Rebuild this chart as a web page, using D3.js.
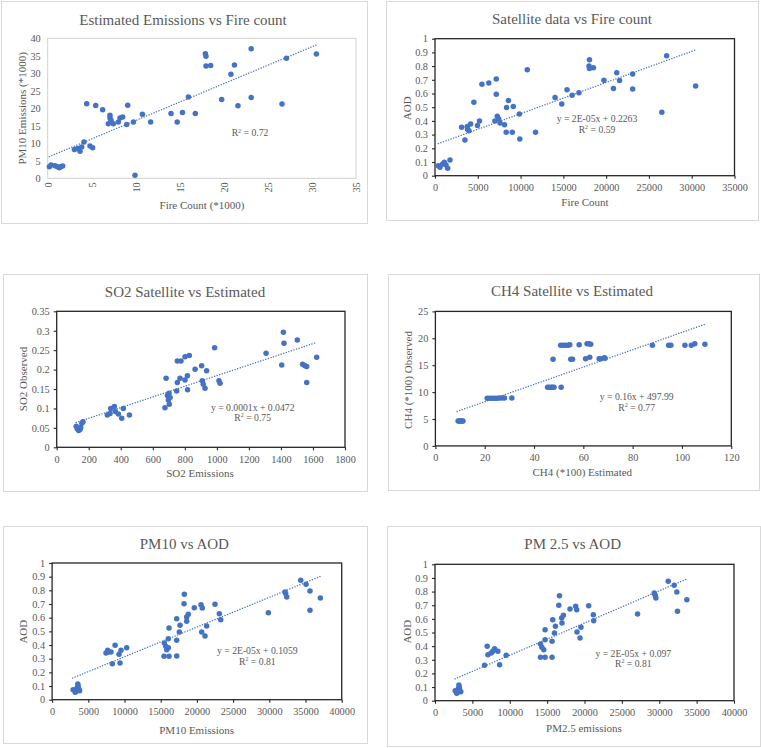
<!DOCTYPE html>
<html><head><meta charset="utf-8">
<script src="https://cdn.jsdelivr.net/npm/d3@7"></script>
<style>body{margin:0;background:#fff}svg{display:block}</style>
</head><body>
<svg id="c" width="761" height="748"></svg>
<script>
// ---------- DATA ----------
const titles = ["Estimated Emissions vs Fire count","Satellite data vs Fire count","SO2 Satellite vs Estimated","CH4 Satellite vs Estimated","PM10 vs AOD","PM 2.5 vs AOD"];
const xTitles = ["Fire Count (*1000)","Fire Count","SO2 Emissions","CH4 (*100) Estimated","PM10 Emissions","PM2.5 emissions"];
const yTitles = ["PM10 Emissions (*1000)","AOD","SO2 Observed","CH4 (*100) Observed","AOD","AOD"];
const equations = ["","y = 2E-05x + 0.2263","y = 0.0001x + 0.0472","y = 0.16x + 497.99","y = 2E-05x + 0.1059","y = 2E-05x + 0.097"];
const r2Values = ["0.72","0.59","0.75","0.77","0.81","0.81"];

const xTicks1 = [0,5,10,15,20,25,30,35];
const yTicks1 = [0,5,10,15,20,25,30,35,40];
const xTicks2 = [0,5000,10000,15000,20000,25000,30000,35000];
const yTicksAOD = [0,0.1,0.2,0.3,0.4,0.5,0.6,0.7,0.8,0.9,1];
const xTicks3 = [0,200,400,600,800,1000,1200,1400,1600,1800];
const yTicks3 = [0,0.05,0.1,0.15,0.2,0.25,0.3,0.35];
const xTicks4 = [0,20,40,60,80,100,120];
const yTicks4 = [0,5,10,15,20,25];
const xTicks56 = [0,5000,10000,15000,20000,25000,30000,35000,40000];

const emissionsVsFire = [[0.19,3.3],[0.38,3.8],[0.83,3.6],[1.1,3.3],[1.32,3.0],[1.48,3.3],[1.7,3.5],
 [3.03,8.2],[3.4,8.5],[3.67,7.7],[3.86,8.95],[4.12,10.4],[4.43,21.3],[4.8,9.2],[5.1,8.7],[5.45,20.8],[6.24,19.6],
 [6.88,15.6],[7.07,18.0],[7.07,17.2],[7.19,16.6],[7.45,15.6],[8.02,16.1],[8.21,17.2],[8.51,17.5],[8.97,15.4],[9.08,20.9],
 [9.73,16.1],[9.91,0.85],[10.75,18.3],[11.69,16.1],[14.0,18.5],[14.7,16.1],[15.3,18.8],[15.97,23.2],[16.76,18.5],
 [17.9,35.6],[17.97,34.9],[17.97,32.1],[18.5,32.2],[19.75,22.5],[20.8,29.7],[21.2,32.4],[21.6,20.7],[23.1,37.0],[23.1,23.1],
 [26.6,21.2],[27.1,34.3],[30.5,35.5]];
const aodVsFire = [[389,0.073],[583,0.061],[895,0.085],[1089,0.098],[1284,0.078],[1478,0.054],[1750,0.115],
 [3112,0.354],[3500,0.261],[3773,0.359],[3800,0.339],[3967,0.329],[4162,0.378],[4540,0.537],[4960,0.366],[5200,0.40],
 [5484,0.668],[6290,0.676],[7160,0.705],[7160,0.595],[7000,0.40],[7280,0.434],[7450,0.414],[7600,0.385],[8120,0.371],
 [8320,0.318],[8363,0.498],[8580,0.548],[9030,0.317],[9150,0.505],[9860,0.451],[9910,0.268],[10780,0.773],[11750,0.317],
 [14030,0.571],[14810,0.524],[15430,0.627],[16020,0.588],[16820,0.606],[18050,0.846],[18000,0.800],[18050,0.783],[18510,0.788],
 [19740,0.697],[20850,0.636],[21240,0.752],[21570,0.695],[23100,0.743],[23100,0.633],[26510,0.464],[27070,0.876],[30455,0.654]];
const so2 = [[122,0.054],[128,0.048],[137,0.043],[146,0.046],[150,0.051],[157,0.062],[164,0.066],
 [316,0.083],[333,0.087],[337,0.100],[360,0.105],[366,0.092],[385,0.086],[406,0.075],[416,0.100],[454,0.083],
 [676,0.102],[683,0.178],[691,0.133],[697,0.122],[701,0.139],[703,0.111],[708,0.128],[749,0.145],[753,0.167],[753,0.222],
 [776,0.222],[770,0.178],[801,0.173],[801,0.233],[816,0.184],[817,0.148],[828,0.236],[864,0.201],[905,0.210],[909,0.171],
 [915,0.162],[926,0.152],[936,0.197],[986,0.256],[1013,0.171],[1020,0.165],[1307,0.242],[1405,0.212],[1415,0.296],
 [1419,0.268],[1502,0.276],[1535,0.214],[1550,0.210],[1561,0.208],[1561,0.167],[1623,0.232]];
const ch4 = [[9.2,4.65],[9.6,4.65],[10.0,4.65],[10.4,4.65],[10.8,4.65],[11.2,4.65],
 [21,8.85],[22,8.85],[23,8.85],[24,8.85],[25,8.85],[26,8.9],[27,8.9],[28,8.9],[31,8.9],
 [45.5,10.9],[46.2,10.9],[47,10.9],[47.6,10.9],[48.1,10.9],[51,10.9],
 [47.7,16.1],[54.9,16.1],[55.6,16.1],[60.9,16.2],[62.6,16.5],[66.4,16.2],[67.1,16.2],[68.5,16.4],[68.8,16.3],
 [50.8,18.7],[51.8,18.7],[52.7,18.7],[53.8,18.7],[54.5,18.8],[58.3,18.8],[61.5,19.0],[62.3,19.0],[63.0,18.9],
 [88,18.7],[94.6,18.7],[95.5,18.7],[101.2,18.7],[103.8,18.7],[105.2,19.0],[109.3,18.9]];
const pm10Aod = [[2900,0.073],[3200,0.054],[3300,0.061],[3450,0.085],[3550,0.115],[3600,0.098],[3700,0.078],[3800,0.065],
 [7445,0.342],[7680,0.361],[7760,0.349],[8130,0.349],[8320,0.263],[8700,0.398],[9240,0.332],[9380,0.268],[9520,0.361],[10300,0.380],
 [15460,0.317],[15500,0.415],[15690,0.391],[15830,0.366],[16050,0.380],[16150,0.317],[16050,0.446],[16150,0.524],
 [17210,0.434],[17210,0.592],[17210,0.320],[17570,0.495],[17670,0.544],[18260,0.771],[18220,0.702],[18590,0.605],[18590,0.573],
 [18810,0.625],[19640,0.673],[20570,0.695],[20750,0.671],[20660,0.495],[21120,0.466],[21350,0.539],[22500,0.698],[23100,0.629],
 [23290,0.585],[29870,0.636],[32170,0.788],[32260,0.776],[32410,0.751],[34340,0.873],[35070,0.844],[35620,0.795],[35620,0.654],[37050,0.744]];
const pm25Aod = [[2700,0.073],[2900,0.054],[3000,0.061],[3100,0.085],[3200,0.115],[3250,0.098],[3300,0.078],[3450,0.065],
 [6630,0.260],[6980,0.399],[7080,0.337],[7520,0.350],[7740,0.362],[7970,0.381],[8410,0.362],[8640,0.264],[9520,0.333],
 [14110,0.416],[14290,0.391],[14550,0.374],[14730,0.520],[14730,0.447],[14110,0.318],[14730,0.318],[15660,0.435],[15660,0.318],
 [15750,0.594],[15980,0.496],[16110,0.545],[16650,0.770],[16560,0.699],[16950,0.606],[16990,0.570],[17180,0.626],[18060,0.672],
 [18820,0.692],[18960,0.667],[19000,0.504],[19400,0.460],[19530,0.538],[20560,0.696],[21180,0.631],[21230,0.587],[27100,0.636],
 [29330,0.790],[29460,0.773],[29550,0.753],[31200,0.875],[32000,0.846],[32350,0.797],[32440,0.655],[33690,0.740]];

const trend1 = [[0.19,6.2],[30.5,38.1]];
const trend2 = [[389,0.234],[30455,0.918]];
const trend3 = [[122,0.064],[1623,0.270]];
const trend4 = [[8.8,6.4],[109.3,22.6]];
const trend5 = [[2830,0.158],[37050,0.902]];
const trend6 = [[2670,0.16],[33780,0.895]];

// ---------- LAYOUT ----------
const panels = [
 {frame:[1,1,366,222], plot:[47.7,356,38.3,178.3], xd:[0,35], yd:[0,40], xt:xTicks1, yt:yTicks1, data:emissionsVsFire, trend:trend1,
  rotX:true, boxColor:"#d0d0d0", tickMarks:false, title:[183,20], xTitle:[202,205], yTitle:[21.7,108.3], eq:null, r2:[250,133]},
 {frame:[386,1,372,219], plot:[435,734.5,38.7,175.7], xd:[0,35000], yd:[0,1], xt:xTicks2, yt:yTicksAOD, data:aodVsFire, trend:trend2,
  boxColor:"#262626", tickMarks:true, title:[572,18.3], xTitle:[585,201.7], yTitle:[407.3,108.3], eq:[597,118.3], r2:[597,129.3]},
 {frame:[3,274,364,217], plot:[56.7,345,311.3,447.3], xd:[0,1800], yd:[0,0.35], xt:xTicks3, yt:yTicks3, data:so2, trend:trend3,
  boxColor:"#262626", tickMarks:true, title:[185,291.7], xTitle:[200,473.3], yTitle:[22.7,379], eq:[252.7,407.3], r2:[252.7,417.7]},
 {frame:[388,274,371,216], plot:[435.4,731.3,311.4,445.9], xd:[0,120], yd:[0,25], xt:xTicks4, yt:yTicks4, data:ch4, trend:trend4,
  boxColor:"#262626", tickMarks:true, title:[572,290.7], xTitle:[582.3,471.7], yTitle:[408.3,380], eq:[636.7,396.7], r2:[636.7,407.3]},
 {frame:[3,526,364,217], plot:[52.1,341.7,563,699.7], xd:[0,40000], yd:[0,1], xt:xTicks56, yt:yTicksAOD, data:pm10Aod, trend:trend5,
  boxColor:"#262626", tickMarks:true, title:[184.3,543.3], xTitle:[196.7,730], yTitle:[23.3,631.7], eq:[257.3,651], r2:[257.3,661.7]},
 {frame:[387,526,373,220], plot:[435,734,564.3,700.7], xd:[0,40000], yd:[0,1], xt:xTicks56, yt:yTicksAOD, data:pm25Aod, trend:trend6,
  boxColor:"#262626", tickMarks:true, title:[572.7,544], xTitle:[584,728.3], yTitle:[406.7,631.7], eq:[633.3,653.3], r2:[633.3,663.3]}
];

const FONT = "'Liberation Serif', 'DejaVu Serif', serif";
const GRAY = "#595959";
const BLUE = "#4472C4";
const svg = d3.select("#c");
svg.append("rect").attr("width",761).attr("height",748).attr("fill","#fff");

panels.forEach((p,i) => {
  const g = svg.append("g");
  const [fx,fy,fw,fh] = p.frame;
  g.append("rect").attr("x",fx+0.5).attr("y",fy+0.5).attr("width",fw).attr("height",fh)
    .attr("fill","#fff").attr("stroke","#d9d9d9").attr("stroke-width",1);
  const [l,r,t,b] = p.plot;
  const x = d3.scaleLinear().domain(p.xd).range([l,r]);
  const y = d3.scaleLinear().domain(p.yd).range([b,t]);
  const fmt = d => String(+d.toFixed(4));

  // plot box
  g.append("rect").attr("x",l).attr("y",t).attr("width",r-l).attr("height",b-t)
    .attr("fill","none").attr("stroke",p.boxColor).attr("stroke-width",p.tickMarks?1.3:1);

  // axes
  const tickLen = p.tickMarks ? 3 : 0;
  const xa = g.append("g").attr("transform",`translate(0,${b})`)
    .call(d3.axisBottom(x).tickValues(p.xt).tickFormat(fmt).tickSizeInner(tickLen).tickSizeOuter(0).tickPadding(p.rotX?4:5));
  const ya = g.append("g").attr("transform",`translate(${l},0)`)
    .call(d3.axisLeft(y).tickValues(p.yt).tickFormat(fmt).tickSizeInner(tickLen).tickSizeOuter(0).tickPadding(p.tickMarks?4:7));
  [xa,ya].forEach(a => {
    a.select(".domain").remove();
    a.selectAll(".tick line").attr("stroke",p.boxColor).attr("stroke-width",1.1);
    a.selectAll("text").attr("fill",GRAY).attr("font-family",FONT).attr("font-size",10.3);
  });
  if (p.rotX) {
    xa.selectAll(".tick text").attr("transform","rotate(-90)").attr("text-anchor","end")
      .attr("x",-4).attr("y",0).attr("dy","0.35em");
  }

  // trendline
  const line = d3.line().x(d=>x(d[0])).y(d=>y(d[1]));
  g.append("path").attr("d",line(p.trend)).attr("fill","none").attr("stroke",BLUE)
    .attr("stroke-width",1.4).attr("stroke-dasharray","0.1,2.6").attr("stroke-linecap","round");

  // dots
  g.append("g").selectAll("circle").data(p.data).join("circle")
    .attr("cx",d=>x(d[0])).attr("cy",d=>y(d[1])).attr("r",2.75).attr("fill",BLUE);

  // titles
  g.append("text").attr("x",p.title[0]).attr("y",p.title[1]).attr("dy","0.35em").attr("text-anchor","middle")
    .attr("font-family",FONT).attr("font-size",15).attr("fill",GRAY).text(titles[i]);
  g.append("text").attr("x",p.xTitle[0]).attr("y",p.xTitle[1]).attr("dy","0.35em").attr("text-anchor","middle")
    .attr("font-family",FONT).attr("font-size",11).attr("fill",GRAY).text(xTitles[i]);
  g.append("text").attr("transform",`translate(${p.yTitle[0]},${p.yTitle[1]}) rotate(-90)`).attr("dy","0.35em")
    .attr("text-anchor","middle").attr("font-family",FONT).attr("font-size",11).attr("fill",GRAY).text(yTitles[i]);

  // equation & R2
  if (p.eq) {
    g.append("text").attr("x",p.eq[0]).attr("y",p.eq[1]).attr("dy","0.35em").attr("text-anchor","middle")
      .attr("font-family",FONT).attr("font-size",9.7).attr("fill",GRAY).text(equations[i]);
  }
  const rt = g.append("text").attr("x",p.r2[0]).attr("y",p.r2[1]).attr("dy","0.35em").attr("text-anchor","middle")
    .attr("font-family",FONT).attr("font-size",9.7).attr("fill",GRAY);
  rt.append("tspan").text("R");
  rt.append("tspan").attr("font-size",6).attr("dy","-0.6em").text("2");
  rt.append("tspan").attr("dy","0.36em").text(" = " + r2Values[i]);
});
</script>
</body></html>
